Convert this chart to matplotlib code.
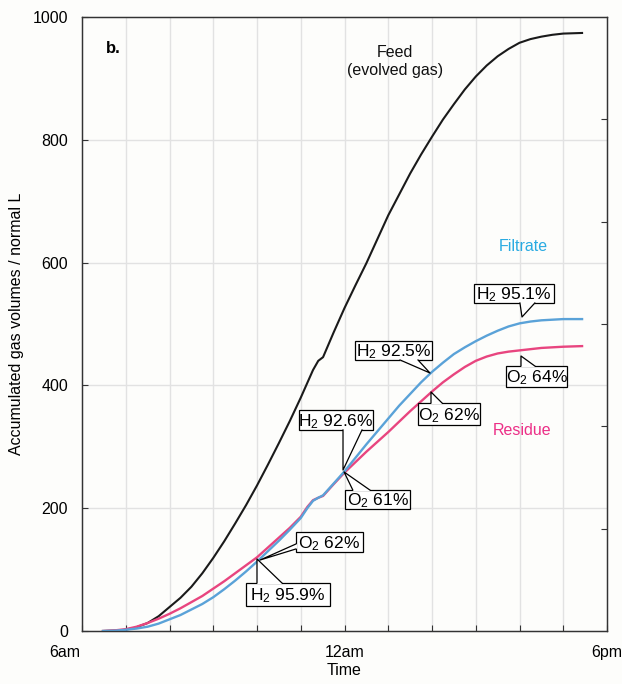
import matplotlib
matplotlib.use("Agg")
import matplotlib.pyplot as plt
import matplotlib.transforms as mtransforms
from matplotlib.patches import Rectangle

plt.rcParams['font.family'] = ['Liberation Sans', 'DejaVu Sans']
plt.rcParams['mathtext.default'] = 'regular'

# hours after 6am
feed_h = [0.48, 0.9, 1.2, 1.5, 1.75, 2.0, 2.25, 2.5, 2.75, 3.0, 3.25, 3.5, 3.75, 4.0, 4.25,
          4.5, 4.75, 5.0, 5.28, 5.4, 5.51, 5.75, 6.0, 6.25, 6.5, 6.75, 7.0, 7.25, 7.5, 7.75,
          8.0, 8.25, 8.5, 8.75, 9.0, 9.25, 9.5, 9.75, 10.0, 10.25, 10.5, 10.75, 11.0, 11.43]
feed_v = [0, 1, 5, 13, 24, 39, 54, 72, 94, 119, 146, 175, 205, 237, 271,
          306, 342, 380, 425, 440, 446, 486, 526, 563, 599, 638, 677, 711, 745, 776,
          805, 833, 858, 882, 903, 921, 936, 948, 958, 964, 968, 971, 973, 974]

filt_h = [0.48, 0.75, 1.0, 1.25, 1.5, 1.75, 2.0, 2.25, 2.5, 2.75, 3.0, 3.25, 3.5, 3.75, 4.0,
          4.25, 4.5, 4.75, 5.0, 5.15, 5.28, 5.4, 5.51, 5.75, 6.0, 6.25, 6.5, 6.75, 7.0, 7.25,
          7.5, 7.75, 8.0, 8.25, 8.5, 8.75, 9.0, 9.25, 9.5, 9.75, 10.0, 10.25, 10.5, 10.75,
          11.0, 11.43]
filt_v = [0, 0.5, 2, 4, 7, 12, 19, 26, 35, 44, 55, 68, 82, 97, 113,
          130, 147, 165, 184, 200, 212, 217, 221, 240, 260, 282, 304, 325, 346, 367,
          386, 405, 422, 437, 451, 462, 472, 481, 489, 496, 501, 504, 506, 507,
          508, 508]

res_h = filt_h
res_v = [0, 1, 3, 7, 13, 20, 28, 37, 47, 57, 69, 81, 94, 107, 120,
         136, 152, 168, 186, 202, 213, 217, 220, 239, 258, 275, 292, 308, 324, 341,
         358, 374, 390, 405, 418, 430, 440, 447, 452, 455, 457, 459, 461, 462,
         463, 464]

xtick_pos = [0, 6, 12]
xtick_labels = ['6am', '12am', '6pm']
ytick_pos = [0, 200, 400, 600, 800, 1000]

# callouts: text, box (h0, h1, v0, v1), tip (h, v), wedge base points
callouts = [
    ('H$_2$ 95.9%', (3.75, 5.67, 40.7, 78.2), (4.0, 117.3), (4.0, 78.2), (4.57, 78.2)),
    ('O$_2$ 62%', (4.89, 6.42, 128.7, 161.2), (4.07, 115.6), (4.89, 141.7), (4.89, 133.6)),
    ('H$_2$ 92.6%', (4.96, 6.65, 327.4, 359.9), (5.966, 262.2), (5.966, 327.4), (6.40, 327.4)),
    ('O$_2$ 61%', (6.01, 7.50, 198.7, 229.6), (5.99, 259.0), (6.19, 229.6), (6.58, 229.6)),
    ('H$_2$ 92.5%', (6.24, 8.0, 441.4, 472.3), (7.954, 420.2), (7.27, 441.4), (7.68, 441.4)),
    ('O$_2$ 62%', (7.68, 9.10, 335.5, 371.3), (7.977, 389.3), (7.977, 371.3), (8.23, 371.3)),
    ('H$_2$ 95.1%', (8.96, 10.79, 534.2, 565.1), (10.057, 511.4), (10.01, 534.2), (10.35, 534.2)),
    ('O$_2$ 64%', (9.69, 11.09, 397.4, 431.6), (10.034, 447.9), (10.034, 431.6), (10.35, 431.6)),
]

FEED_C = '#1a1a1a'
FILT_C = '#5aa2d8'
RES_C = '#e8457f'
BG = '#fdfdfb'

fig = plt.figure(figsize=(6.22, 6.84), dpi=100, facecolor=BG)
ax = fig.add_axes([82/622, 1-631/684, (607-82)/622, (631-17)/684])
ax.set_facecolor(BG)

ax.set_xlim(0, 12)
ax.set_ylim(0, 1000)

# grid
for h in range(1, 12):
    ax.axvline(h, color='#e2e2e2', lw=1.0, zorder=0)
for v in [200, 400, 600, 800]:
    ax.axhline(v, color='#e2e2e2', lw=1.0, zorder=0)

ax.plot(feed_h, feed_v, color=FEED_C, lw=1.5, zorder=3, solid_joinstyle='round')
ax.plot(res_h, res_v, color=RES_C, lw=1.7, zorder=3, solid_joinstyle='round')
ax.plot(filt_h, filt_v, color=FILT_C, lw=1.7, zorder=3, solid_joinstyle='round')

ax.set_xticks(range(0, 13))
ax.set_xticklabels(['' if i not in xtick_pos else xtick_labels[xtick_pos.index(i)] for i in range(13)])
ax.set_yticks(ytick_pos)
ax.tick_params(direction='in', length=4, width=0.8, color='#333333', labelsize=11.5, pad=10)
lbls = ax.get_xticklabels()
lbls[0].set_horizontalalignment('right')
lbls[0].set_transform(lbls[0].get_transform() + mtransforms.ScaledTranslation(-2/100, 0, fig.dpi_scale_trans))

# right-side ticks
ax2 = ax.twinx()
ax2.set_ylim(0, 1000)
ax2.set_yticks([1000*i/6 for i in range(1, 6)])
ax2.tick_params(direction='in', length=4, width=0.8, color='#333333', labelright=False)

for a in (ax, ax2):
    for s in a.spines.values():
        s.set_color('#333333')
        s.set_linewidth(0.9)

ax.set_xlabel('Time', fontsize=11.5, labelpad=2)
ax.set_ylabel('Accumulated gas volumes / normal L', fontsize=11.5, labelpad=6)

ax.text(0.71, 948, 'b.', fontsize=12, fontweight='bold', ha='center', va='center')
ax.text(7.15, 928, 'Feed\n(evolved gas)', fontsize=11.5, ha='center', va='center',
        linespacing=1.25, color='#111111')
ax.text(10.08, 627, 'Filtrate', fontsize=11.5, ha='center', va='center', color='#2aabe2')
ax.text(10.06, 326, 'Residue', fontsize=11.5, ha='center', va='center', color='#ec2f87')

for txt, box, tip, b1, b2 in callouts:
    h0, h1, v0, v1 = box
    ax.add_patch(Rectangle((h0, v0), h1 - h0, v1 - v0, fc='white', ec='black', lw=0.9, zorder=5))
    ax.plot([b1[0], b2[0]], [b1[1], b2[1]], color='white', lw=1.6, zorder=6,
            solid_capstyle='butt')
    ax.fill([b1[0], tip[0], b2[0]], [b1[1], tip[1], b2[1]], color='white', lw=0, zorder=6)
    ax.plot([b1[0], tip[0], b2[0]], [b1[1], tip[1], b2[1]], color='black', lw=0.9, zorder=6.5)
    ax.text((h0 + h1) / 2, (v0 + v1) / 2 - 2, txt, fontsize=12.5, ha='center', va='center',
            zorder=7)

fig.savefig('out.png', dpi=100, facecolor=fig.get_facecolor())
